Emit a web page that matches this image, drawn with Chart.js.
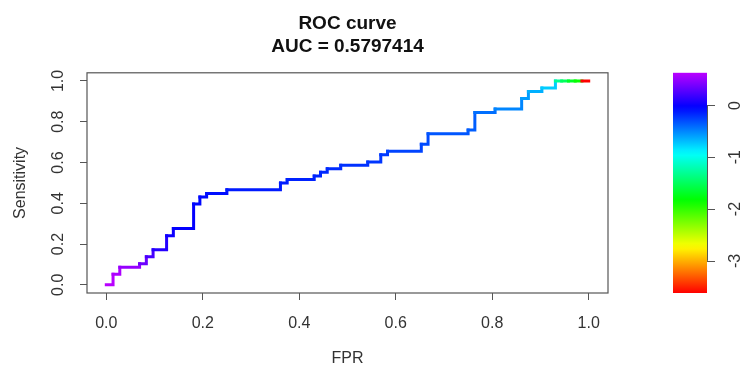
<!DOCTYPE html>
<html>
<head>
<meta charset="utf-8">
<script src="https://cdn.jsdelivr.net/npm/chart.js@4.4.1/dist/chart.umd.min.js"></script>
<style>
  html, body { margin: 0; padding: 0; background: #fff; }
  canvas { display: block; }
</style>
</head>
<body>
<canvas id="rocChart" width="741" height="371"></canvas>
<script>
// ROC curve vertices (false positive rate, sensitivity) and the cutoff used to colour each step
const fpr = [0, 0.014, 0.028, 0.069, 0.083, 0.097, 0.125, 0.139, 0.181, 0.194, 0.208, 0.25,
    0.361, 0.375, 0.431, 0.444, 0.458, 0.486, 0.542, 0.569, 0.583, 0.653, 0.667, 0.75,
    0.764, 0.806, 0.861, 0.875, 0.903, 0.931, 0.944, 0.958, 0.972, 0.986, 1.0];
const tpr = [0, 0.052, 0.086, 0.103, 0.138, 0.172, 0.241, 0.276, 0.397, 0.431, 0.448, 0.466,
    0.5, 0.517, 0.534, 0.552, 0.569, 0.586, 0.603, 0.638, 0.655, 0.69, 0.741, 0.759,
    0.845, 0.862, 0.914, 0.948, 0.966, 1.0, 1.0, 1.0, 1.0, 1.0, 1.0];
const cutoff = [0.63, 0.62, 0.58, 0.5, 0.35, 0.22, 0.1, 0.02, -0.02, -0.05, -0.06, -0.08,
    -0.12, -0.13, -0.15, -0.16, -0.17, -0.18, -0.2, -0.22, -0.23, -0.27, -0.29, -0.33,
    -0.36, -0.42, -0.5, -0.58, -0.65, -0.75, -1.3, -1.5, -1.7, -1.85, -3.62];

const xTicks = [0, 0.2, 0.4, 0.6, 0.8, 1.0];
const yTicks = [0, 0.2, 0.4, 0.6, 0.8, 1.0];
const colorTicks = [0, -1, -2, -3];
const colorMin = -3.62;
const colorMax = 0.63;

const FONT = 'Liberation Sans, Arial, Helvetica, sans-serif';

function cutoffColor(v) {
    const t = (v - colorMin) / (colorMax - colorMin);
    return 'hsl(' + (t * 284).toFixed(1) + ', 100%, 50%)';
}

// box around the plot, rotated y tick labels and the colour key
const extras = {
    id: 'extras',
    afterDraw(chart) {
        const ctx = chart.ctx;
        const area = chart.chartArea;
        const yScale = chart.scales.y;
        ctx.save();
        ctx.strokeStyle = '#555';
        ctx.lineWidth = 1.2;
        ctx.strokeRect(area.left, area.top, area.right - area.left, area.bottom - area.top);

        ctx.fillStyle = '#333';
        ctx.font = '16px ' + FONT;
        ctx.textAlign = 'center';
        ctx.textBaseline = 'middle';
        yTicks.forEach(v => {
            ctx.save();
            ctx.translate(59, yScale.getPixelForValue(v));
            ctx.rotate(-Math.PI / 2);
            ctx.fillText(v.toFixed(1), 0, 0);
            ctx.restore();
        });

        // colour key
        const left = 673, right = 707;
        const top = area.top, bottom = area.bottom;
        const yOf = v => top + (colorMax - v) / (colorMax - colorMin) * (bottom - top);
        const grad = ctx.createLinearGradient(0, top, 0, bottom);
        for (let i = 0; i <= 40; i++) {
            const v = colorMax - (colorMax - colorMin) * i / 40;
            grad.addColorStop(i / 40, cutoffColor(v));
        }
        ctx.fillStyle = grad;
        ctx.fillRect(left, top, right - left, bottom - top);

        ctx.strokeStyle = '#555';
        ctx.lineWidth = 1;
        ctx.beginPath();
        ctx.moveTo(right + 0.5, yOf(colorTicks[0]));
        ctx.lineTo(right + 0.5, yOf(colorTicks[colorTicks.length - 1]));
        colorTicks.forEach(v => {
            ctx.moveTo(right, Math.round(yOf(v)) + 0.5);
            ctx.lineTo(right + 8, Math.round(yOf(v)) + 0.5);
        });
        ctx.stroke();

        ctx.fillStyle = '#333';
        colorTicks.forEach(v => {
            ctx.save();
            ctx.translate(736, yOf(v));
            ctx.rotate(-Math.PI / 2);
            ctx.fillText(String(v), 0, 0);
            ctx.restore();
        });
        ctx.restore();
    }
};

new Chart(document.getElementById('rocChart'), {
    type: 'line',
    data: {
        datasets: [{
            data: fpr.map((x, i) => ({x: x, y: tpr[i]})),
            stepped: true,
            borderWidth: 3,
            borderCapStyle: 'square',
            pointRadius: 0,
            fill: false,
            segment: {
                borderColor: ctx => cutoffColor(cutoff[ctx.p1DataIndex])
            }
        }]
    },
    options: {
        responsive: false,
        animation: false,
        events: [],
        layout: { padding: { left: 0, right: 133, top: 0, bottom: 0 } },
        plugins: {
            legend: { display: false },
            tooltip: { enabled: false },
            title: {
                display: true,
                fullSize: false,
                text: ['ROC curve', 'AUC = 0.5797414'],
                color: '#111',
                font: { family: FONT, size: 19, weight: 'bold', lineHeight: 1.2 },
                padding: { top: 12.5, bottom: 14.7 }
            }
        },
        scales: {
            x: {
                type: 'linear',
                min: -0.04,
                max: 1.04,
                afterBuildTicks: s => { s.ticks = xTicks.map(v => ({value: v})); },
                afterFit: s => { s.height = 78; },
                grid: { drawOnChartArea: false, tickLength: 7, color: '#555' },
                border: { display: false },
                ticks: {
                    color: '#333',
                    padding: 14,
                    maxRotation: 0,
                    font: { family: FONT, size: 16 },
                    callback: v => v.toFixed(1)
                },
                title: {
                    display: true,
                    text: 'FPR',
                    color: '#333',
                    font: { family: FONT, size: 16 },
                    padding: { top: 0, bottom: 3 }
                }
            },
            y: {
                type: 'linear',
                min: -0.04,
                max: 1.04,
                afterBuildTicks: s => { s.ticks = yTicks.map(v => ({value: v})); },
                afterFit: s => { s.width = 87; },
                grid: { drawOnChartArea: false, tickLength: 7, color: '#555' },
                border: { display: false },
                ticks: { display: false },
                title: {
                    display: true,
                    text: 'Sensitivity',
                    color: '#333',
                    font: { family: FONT, size: 16 },
                    padding: { top: 11, bottom: 0 }
                }
            }
        }
    },
    plugins: [extras]
});
</script>
</body>
</html>
